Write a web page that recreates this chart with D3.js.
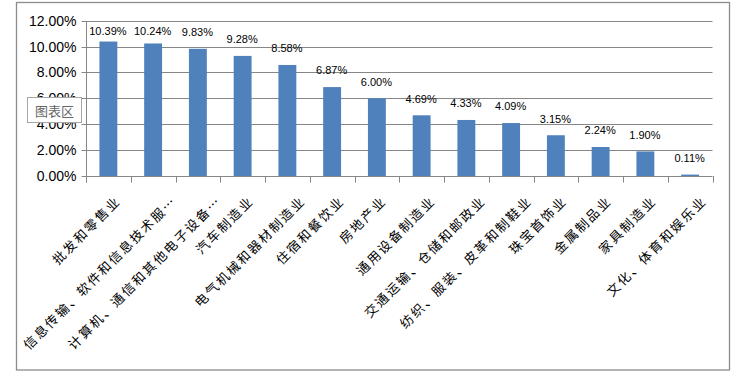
<!DOCTYPE html>
<html>
<head>
<meta charset="utf-8">
<script src="https://cdn.jsdelivr.net/npm/d3@7"></script>
<style>
  html, body { margin: 0; padding: 0; background: #fff; }
  svg { display: block; }
</style>
</head>
<body>
<svg id="chart" width="742" height="376"></svg>
<script>
// ---- data ----
const categories = [
  "批发和零售业",
  "信息传输、软件和信息技术服…",
  "计算机、通信和其他电子设备…",
  "汽车制造业",
  "电气机械和器材制造业",
  "住宿和餐饮业",
  "房地产业",
  "通用设备制造业",
  "交通运输、仓储和邮政业",
  "纺织、服装、皮革和制鞋业",
  "珠宝首饰业",
  "金属制品业",
  "家具制造业",
  "文化、体育和娱乐业"
];
const values = [10.39, 10.24, 9.83, 9.28, 8.58, 6.87, 6.00, 4.69, 4.33, 4.09, 3.15, 2.24, 1.90, 0.11];
const yTicks = [0, 2, 4, 6, 8, 10, 12];
const yTickLabels = ["0.00%", "2.00%", "4.00%", "6.00%", "8.00%", "10.00%", "12.00%"];

// ---- layout ----
const svg = d3.select("#chart");
const plot = { left: 86, right: 712.5, top: 20.7, bottom: 176 };
const gridColor = "#868686";
const barColor = "#4f81bd";
const numFont = "'Liberation Sans', Arial, sans-serif";
const cjkFont = "'Noto Sans CJK SC', sans-serif";

// chart area border
svg.append("rect")
  .attr("x", 16.5).attr("y", 2.5)
  .attr("width", 713).attr("height", 367.5)
  .attr("fill", "#fff")
  .attr("stroke", "#8c8c8c").attr("stroke-width", 1.3);

const x = d3.scaleBand().domain(categories).range([plot.left, plot.right]).padding(0);
const y = d3.scaleLinear().domain([0, 12]).range([plot.bottom, plot.top]);

// gridlines
svg.append("g").selectAll("line").data(yTicks).join("line")
  .attr("x1", plot.left).attr("x2", plot.right)
  .attr("y1", d => Math.round(y(d)) + 0.5).attr("y2", d => Math.round(y(d)) + 0.5)
  .attr("stroke", gridColor).attr("stroke-width", 1);

// y axis
const yAxis = d3.axisLeft(y).tickValues(yTicks)
  .tickFormat((d, i) => yTickLabels[i]).tickSize(5).tickPadding(5);
const gy = svg.append("g").attr("transform", `translate(${plot.left + 0.5},0)`).call(yAxis);
gy.select(".domain").remove();
gy.selectAll(".tick line").attr("stroke", gridColor);
gy.selectAll(".tick").attr("transform", d => `translate(0,${Math.round(y(d)) + 0.5})`);
gy.selectAll(".tick text")
  .attr("font-family", numFont).attr("font-size", 14).attr("fill", "#000");
svg.append("line")
  .attr("x1", plot.left + 0.5).attr("x2", plot.left + 0.5)
  .attr("y1", Math.round(y(12))).attr("y2", plot.bottom + 6.5)
  .attr("stroke", gridColor);

// x tick marks at band boundaries
const boundaries = categories.map(c => x(c)).concat([plot.right]);
svg.append("g").selectAll("line").data(boundaries).join("line")
  .attr("x1", d => Math.round(d) + 0.5).attr("x2", d => Math.round(d) + 0.5)
  .attr("y1", plot.bottom).attr("y2", plot.bottom + 6.5)
  .attr("stroke", gridColor);

// bars
const barW = x.bandwidth() * 0.4;
svg.append("g").selectAll("rect").data(values).join("rect")
  .attr("x", (d, i) => x(categories[i]) + (x.bandwidth() - barW) / 2)
  .attr("y", d => y(d))
  .attr("width", barW)
  .attr("height", d => y(0) - y(d))
  .attr("fill", barColor);

// data labels
svg.append("g").selectAll("text").data(values).join("text")
  .attr("x", (d, i) => x(categories[i]) + x.bandwidth() / 2 - 0.5)
  .attr("y", d => Math.max(y(d) - 12.7, 35))
  .attr("text-anchor", "middle")
  .attr("font-family", numFont).attr("font-size", 11).attr("fill", "#000")
  .text(d => d.toFixed(2) + "%");

// category labels (rotated -45)
svg.append("g").selectAll("text").data(categories).join("text")
  .attr("transform", (d, i) => {
    const cx = x(d) + x.bandwidth() / 2 + 1 + 1.4 * [...d].length;
    return `translate(${cx},${plot.bottom + 22}) rotate(-45)`;
  })
  .attr("text-anchor", "end")
  .attr("dominant-baseline", "central")
  .attr("font-family", cjkFont).attr("font-size", 13)
  .attr("letter-spacing", 2)
  .attr("fill", "#000")
  .text(d => d);

// "图表区" tooltip
const tip = svg.append("g");
tip.append("rect")
  .attr("x", 27.5).attr("y", 97.5).attr("width", 54).attr("height", 25)
  .attr("fill", "#fff").attr("stroke", "#a6a6a6");
tip.append("text")
  .attr("x", 54.5).attr("y", 110.5)
  .attr("text-anchor", "middle").attr("dominant-baseline", "central")
  .attr("font-family", cjkFont).attr("font-size", 13).attr("fill", "#666")
  .text("图表区");
</script>
</body>
</html>
